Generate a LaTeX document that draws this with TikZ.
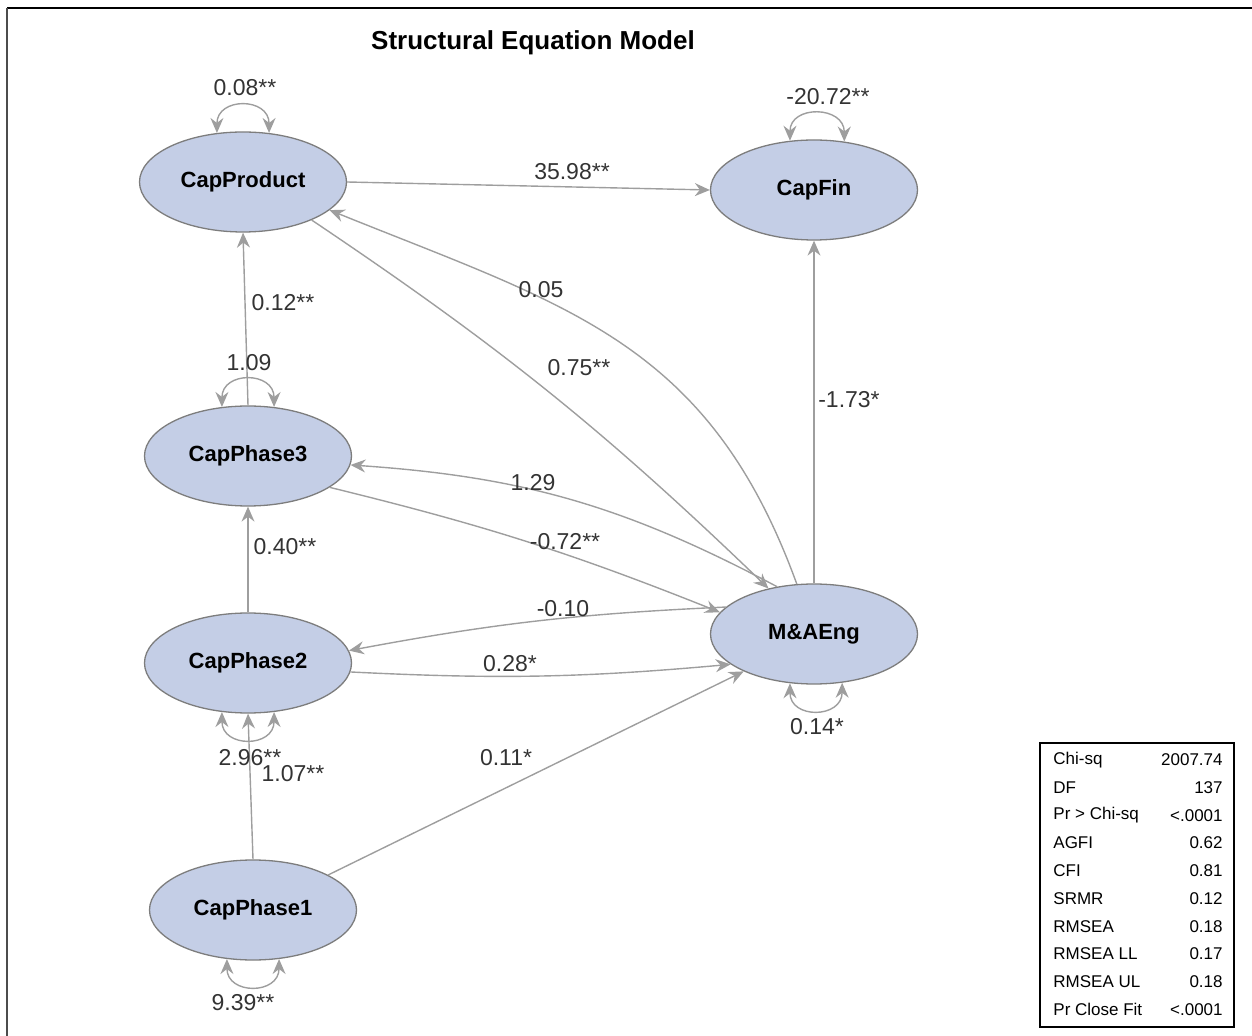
\documentclass[tikz,border=0pt]{standalone}
\usepackage{fontspec}
\setmainfont{Liberation Sans}
\usepackage{tikz}
\usetikzlibrary{shapes.geometric,arrows.meta}
\definecolor{latentblue}{RGB}{196,206,230}
\definecolor{edgegray}{RGB}{158,158,158}
\definecolor{rimgray}{RGB}{125,125,125}
\tikzstyle{latent}=[ellipse,draw=rimgray,line width=0.65pt,fill=latentblue,minimum width=103.5pt,minimum height=50pt,inner sep=0pt,font=\fontsize{11}{13}\selectfont\bfseries]
\tikzstyle{effect}=[draw=edgegray,line width=0.7pt,-{Stealth[length=7.5pt,width=6.5pt,inset=2.5pt]}]
\tikzstyle{varloop}=[draw=edgegray,line width=0.7pt,{Stealth[length=7.5pt,width=6.5pt,inset=2.5pt]}-{Stealth[length=7.5pt,width=6.5pt,inset=2.5pt]}]
\tikzstyle{coef}=[inner sep=0pt,text=black!80,font=\fontsize{11.5}{13}\selectfont]
\tikzstyle{fitrow}=[inner sep=0pt,font=\fontsize{8.5}{10}\selectfont]

\begin{document}
\begin{tikzpicture}[x=0.5pt,y=-0.5pt]
  \useasboundingbox (0,0) rectangle (1252,1036);
  % frame
  \draw[line width=1.3pt] (7,8) -- (1252,8);
  \draw[line width=1pt,black!70] (7,8) -- (7,1036);
  \node[inner sep=0pt,font=\fontsize{13}{15}\selectfont\bfseries] (title) at (533,43) {Structural Equation Model};

  % latent variables
  \node[latent] (cp)  at (243,182) {CapProduct};
  \node[latent] (cf)  at (814,190) {CapFin};
  \node[latent] (cp3) at (248,456) {CapPhase3};
  \node[latent] (cp2) at (248,663) {CapPhase2};
  \node[latent] (cp1) at (253,910) {CapPhase1};
  \node[latent] (mae) at (814,634) {M\&AEng};

  % paths
  \draw[effect] (cp.east) -- (cf.west);
  \draw[effect] (mae.109) to[out=110,in=-22,looseness=1.1] (cp.-18);
  \draw[effect] (cp.-29) to[bend left=5] (mae.135);
  \draw[effect] (cp3.north) -- (cp.south);
  \draw[effect] (mae.north) -- (cf.south);
  \draw[effect] (mae.128) to[bend right=12] (cp3.-5);
  \draw[effect] (cp3.-21) to[bend left=4] (mae.167);
  \draw[effect] (cp2.north) -- (cp3.south);
  \draw[effect] (mae.163) to[bend right=4] (cp2.7);
  \draw[effect] (cp2.-5) to[bend right=4] (mae.200);
  \draw[effect] (cp1.north) -- (cp2.south);
  \draw[effect] (cp1.25) -- (mae.208);

  % variances
  \draw[varloop] (cp.118) to[out=90,in=90,distance=18pt] (cp.62);
  \draw[varloop] (cf.116) to[out=90,in=90,distance=18pt] (cf.58);
  \draw[varloop] (cp3.118) to[out=90,in=90,distance=18pt] (cp3.62);
  \draw[varloop] (cp2.242) to[out=-90,in=-90,distance=18pt] (cp2.298);
  \draw[varloop] (cp1.242) to[out=-90,in=-90,distance=18pt] (cp1.298);
  \draw[varloop] (mae.244) to[out=-90,in=-90,distance=18pt] (mae.300);

  % estimates
  \node[coef] (vcp)  at (245,88)  {0.08**};
  \node[coef] (vcf)  at (828,97)  {-20.72**};
  \node[coef] (vcp3) at (249,363) {1.09};
  \node[coef] (vcp2) at (250,758) {2.96**};
  \node[coef] (vcp1) at (243,1003) {9.39**};
  \node[coef] (vmae) at (817,727) {0.14*};
  \node[coef] (ecpcf)   at (572,172) {35.98**};
  \node[coef] (emaecp)  at (541,290) {0.05};
  \node[coef] (ecpmae)  at (579,368) {0.75**};
  \node[coef] (ecp3cp)  at (283,303) {0.12**};
  \node[coef] (emaecf)  at (849,400) {-1.73*};
  \node[coef] (emaecp3) at (533,483) {1.29};
  \node[coef] (ecp3mae) at (565,542) {-0.72**};
  \node[coef] (ecp2cp3) at (285,547) {0.40**};
  \node[coef] (emaecp2) at (563,609) {-0.10};
  \node[coef] (ecp2mae) at (510,664) {0.28*};
  \node[coef] (ecp1cp2) at (293,774) {1.07**};
  \node[coef] (ecp1mae) at (506,758) {0.11*};

  % fit summary
  \node[draw,line width=0.6pt,minimum width=97pt,minimum height=142pt,inner sep=0pt] (fitbox) at (1137,885) {};
  \foreach \key/\val [count=\i] in {Chi-sq/2007.74,DF/137,Pr > Chi-sq/<.0001,AGFI/0.62,CFI/0.81,SRMR/0.12,RMSEA/0.18,RMSEA LL/0.17,RMSEA UL/0.18,Pr Close Fit/<.0001}
  {
    \node[fitrow,anchor=west] (key\i) at (1053,732.3+27.7*\i) {\key};
    \node[fitrow,anchor=east] (val\i) at (1223,732.3+27.7*\i) {\val};
  }
\end{tikzpicture}
\end{document}
